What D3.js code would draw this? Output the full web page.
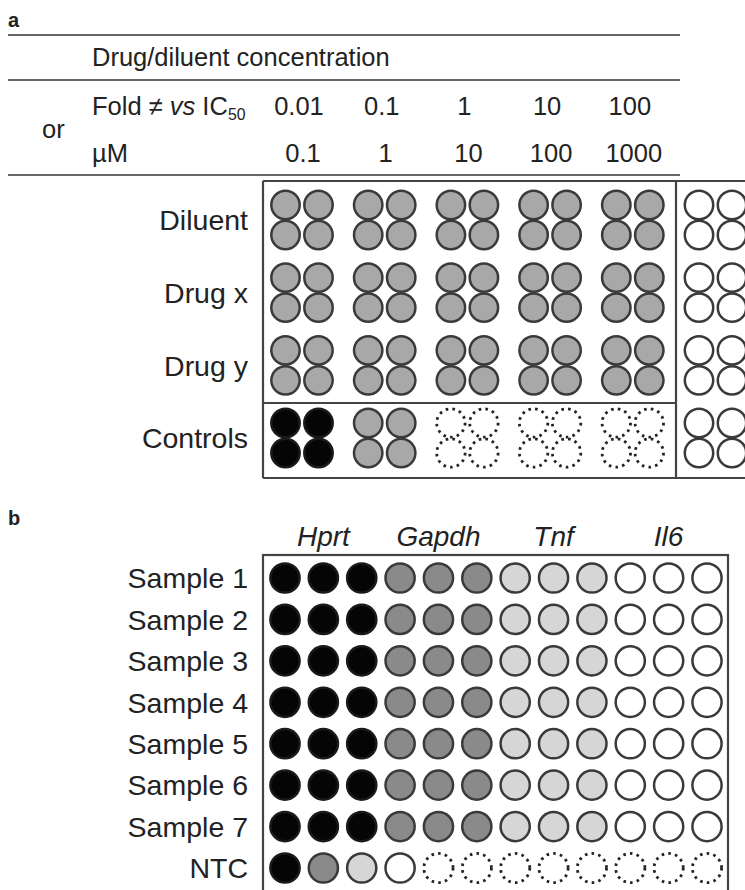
<!DOCTYPE html>
<html><head><meta charset="utf-8">
<script src="https://cdn.jsdelivr.net/npm/d3@7"></script>
<style>
html,body{margin:0;padding:0;background:#fff;}
svg{display:block;}
text{font-family:"Liberation Sans",Arial,Helvetica,sans-serif;fill:#222;}
</style></head>
<body>
<svg id="chart" width="745" height="890"></svg>
<script>
// ---------- DATA ----------
const foldLabels = ["0.01", "0.1", "1", "10", "100"];
const microMolarLabels = ["0.1", "1", "10", "100", "1000"];
const treatments = ["Diluent", "Drug x", "Drug y", "Controls"];
// well state per treatment row, per concentration group (6 groups: 5 conc + blank column)
const plateAWells = [
  ["mid", "mid", "mid", "mid", "mid", "open"],
  ["mid", "mid", "mid", "mid", "mid", "open"],
  ["mid", "mid", "mid", "mid", "mid", "open"],
  ["black", "mid", "empty", "empty", "empty", "open"]
];
const genes = ["Hprt", "Gapdh", "Tnf", "Il6"];
const samples = ["Sample 1", "Sample 2", "Sample 3", "Sample 4", "Sample 5", "Sample 6", "Sample 7", "NTC"];
const sampleRow = ["black","black","black","dark","dark","dark","light","light","light","open","open","open"];
const plateBWells = [
  sampleRow, sampleRow, sampleRow, sampleRow, sampleRow, sampleRow, sampleRow,
  ["black","dark","light","open","empty","empty","empty","empty","empty","empty","empty","empty"]
];

// ---------- STYLES ----------
const fills = {black:"#050505", dark:"#8a8a8a", mid:"#a8a8a8", light:"#d6d6d6", open:"#ffffff", empty:"#ffffff"};
const strokeCol = "#3a3a3a";

const svg = d3.select("#chart");

// ---------- PANEL A HEADER ----------
svg.append("text").attr("x", 8).attr("y", 27).attr("font-size", 20).attr("font-weight", "bold").text("a");
[35, 80, 175].forEach(y => svg.append("line").attr("x1", 8).attr("x2", 680).attr("y1", y).attr("y2", y)
  .attr("stroke", "#333").attr("stroke-width", 1.6));

const headFS = 25.5;
svg.append("text").attr("x", 92).attr("y", 66).attr("font-size", headFS).text("Drug/diluent concentration");
const foldT = svg.append("text").attr("x", 92).attr("y", 115).attr("font-size", headFS);
foldT.append("tspan").text("Fold \u2260 ");
foldT.append("tspan").attr("font-style", "italic").text("vs");
foldT.append("tspan").text(" IC");
foldT.append("tspan").attr("font-size", headFS * 0.62).attr("dy", 5).text("50");
svg.append("text").attr("x", 42).attr("y", 138).attr("font-size", headFS).text("or");
svg.append("text").attr("x", 92).attr("y", 162).attr("font-size", headFS).text("\u00b5M");

// ---------- PANEL A GRID ----------
const xGroup = d3.scalePoint().domain(d3.range(6)).range([302, 715.5]);
const yTreat = d3.scalePoint().domain(treatments).range([220, 438]);
const dxA = 16.5, dyA = 15, rA = 14.2;

foldLabels.forEach((t, i) => svg.append("text").attr("x", xGroup(i) - 3).attr("y", 115)
  .attr("text-anchor", "middle").attr("font-size", headFS).text(t));
microMolarLabels.forEach((t, i) => svg.append("text").attr("x", xGroup(i) + 1).attr("y", 162)
  .attr("text-anchor", "middle").attr("font-size", headFS).text(t));

const labFS = 28.5;
treatments.forEach(t => svg.append("text").attr("x", 248).attr("y", yTreat(t)).attr("dy", "0.36em")
  .attr("text-anchor", "end").attr("font-size", labFS).text(t));

const wellsA = [];
plateAWells.forEach((row, ri) => row.forEach((state, gi) => {
  [[-1,-1],[1,-1],[-1,1],[1,1]].forEach(([sx, sy]) => wellsA.push({
    cx: xGroup(gi) + sx * dxA, cy: yTreat(treatments[ri]) + sy * dyA, state
  }));
}));

function drawWells(data, r) {
  svg.append("g").selectAll("circle").data(data).join("circle")
    .attr("cx", d => d.cx).attr("cy", d => d.cy).attr("r", r)
    .attr("fill", d => d.state === "empty" ? "none" : fills[d.state])
    .attr("stroke", d => d.state === "black" ? "#1a1a1a" : (d.state === "empty" ? "#222" : strokeCol))
    .attr("stroke-width", d => d.state === "empty" ? 2.8 : 2.5)
    .attr("stroke-dasharray", d => d.state === "empty" ? "2.6,4.2" : null);
}
drawWells(wellsA, rA);

// frame of panel a
const boxCol = "#444";
const aTop = 181, aBot = 478, aLeft = 263, aDiv = 676, aMid = 403;
svg.append("line").attr("x1", aLeft).attr("x2", 748).attr("y1", aTop).attr("y2", aTop).attr("stroke", boxCol).attr("stroke-width", 2.2);
svg.append("line").attr("x1", aLeft).attr("x2", 748).attr("y1", aBot).attr("y2", aBot).attr("stroke", boxCol).attr("stroke-width", 2.2);
svg.append("line").attr("x1", aLeft).attr("x2", aLeft).attr("y1", aTop).attr("y2", aBot).attr("stroke", boxCol).attr("stroke-width", 2.2);
svg.append("line").attr("x1", aDiv).attr("x2", aDiv).attr("y1", aTop).attr("y2", aBot).attr("stroke", boxCol).attr("stroke-width", 2.2);
svg.append("line").attr("x1", aLeft).attr("x2", aDiv).attr("y1", aMid).attr("y2", aMid).attr("stroke", boxCol).attr("stroke-width", 2.2);

// ---------- PANEL B ----------
svg.append("text").attr("x", 8).attr("y", 525).attr("font-size", 20).attr("font-weight", "bold").text("b");

const xCol = d3.scalePoint().domain(d3.range(12)).range([285, 707]);
const ySample = d3.scalePoint().domain(samples).range([578, 868]);
const rB = 14.6;

genes.forEach((g, gi) => {
  const cx = (xCol(gi * 3) + xCol(gi * 3 + 2)) / 2;
  svg.append("text").attr("x", cx).attr("y", 546).attr("text-anchor", "middle")
    .attr("font-size", 28).attr("font-style", "italic").text(g);
});
samples.forEach(s => svg.append("text").attr("x", 248).attr("y", ySample(s)).attr("dy", "0.36em")
  .attr("text-anchor", "end").attr("font-size", labFS).text(s));

const wellsB = [];
plateBWells.forEach((row, ri) => row.forEach((state, ci) => wellsB.push({
  cx: xCol(ci), cy: ySample(samples[ri]), state
})));
drawWells(wellsB, rB);

svg.append("rect").attr("x", 263).attr("y", 555).attr("width", 465).attr("height", 360)
  .attr("fill", "none").attr("stroke", boxCol).attr("stroke-width", 2.2);
</script>
</body></html>
